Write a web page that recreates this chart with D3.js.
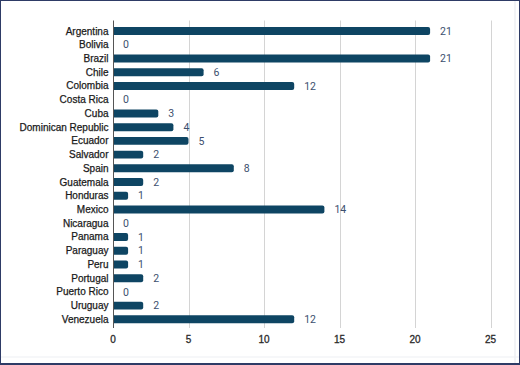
<!DOCTYPE html>
<html><head><meta charset="utf-8">
<script src="https://cdn.jsdelivr.net/npm/d3@7"></script>
<style>
html,body{margin:0;padding:0;background:#fff;}
svg{display:block;}
</style></head>
<body>
<svg id="chart" width="520" height="365"></svg>
<script>
const categories = ["Argentina","Bolivia","Brazil","Chile","Colombia","Costa Rica","Cuba","Dominican Republic","Ecuador","Salvador","Spain","Guatemala","Honduras","Mexico","Nicaragua","Panama","Paraguay","Peru","Portugal","Puerto Rico","Uruguay","Venezuela"];
const values = [21,0,21,6,12,0,3,4,5,2,8,2,1,14,0,1,1,1,2,0,2,12];
const tickValues = [0,5,10,15,20,25];

(function(){
const svg = d3.select("#chart");
const W = 520, H = 365;

// frame
svg.append("rect").attr("x",0).attr("y",0).attr("width",W).attr("height",H).attr("fill","#fff");
svg.append("rect").attr("x",514.5).attr("y",1).attr("width",1).attr("height",H-3).attr("fill","#e6e8ee");
svg.append("rect").attr("x",1).attr("y",356.5).attr("width",W-2).attr("height",1).attr("fill","#eef0f4");
svg.append("rect").attr("x",0.5).attr("y",0.5).attr("width",W-1).attr("height",H-1.5)
  .attr("fill","none").attr("stroke","#2e3b66").attr("stroke-width",1);
svg.append("rect").attr("x",0).attr("y",H-2).attr("width",W).attr("height",2).attr("fill","#2e3b66");

const x = d3.scaleLinear().domain([0,25]).range([113,490.5]);
const y = d3.scaleBand().domain(categories).range([24.2,326.2]).paddingInner(0.42).paddingOuter(0.21);

const yTop = 20.5, yBottom = 328;
// gridlines
svg.append("g").selectAll("line").data(tickValues.filter(d=>d>0)).join("line")
  .attr("x1",d=>Math.round(x(d))+0.5).attr("x2",d=>Math.round(x(d))+0.5)
  .attr("y1",yTop).attr("y2",yBottom).attr("stroke","#d4d4d4").attr("stroke-width",1);

// bars
svg.append("g").selectAll("path").data(categories.map((c,i)=>({c,v:values[i]})).filter(d=>d.v>0)).join("path")
  .attr("fill","#0e4563")
  .attr("d",d=>{
    const x0 = x(0), x1 = x(d.v), y0 = y(d.c), h = y.bandwidth(), r = 2;
    return `M${x0},${y0}H${x1-r}Q${x1},${y0} ${x1},${y0+r}V${y0+h-r}Q${x1},${y0+h} ${x1-r},${y0+h}H${x0}Z`;
  });

// axis line
svg.append("line").attr("x1",Math.round(x(0))+0.5).attr("x2",Math.round(x(0))+0.5)
  .attr("y1",yTop).attr("y2",yBottom).attr("stroke","#555").attr("stroke-width",1);

// category labels
svg.append("g").selectAll("text").data(categories).join("text")
  .attr("x",108.5).attr("y",d=>y(d)+y.bandwidth()/2).attr("dy","0.35em")
  .attr("text-anchor","end").attr("font-family","'Liberation Sans', Arial, sans-serif")
  .attr("font-size",10).attr("fill","#1a1a1a").attr("stroke","#1a1a1a").attr("stroke-width",0.25)
  .text(d=>d);

// value labels
svg.append("g").selectAll("text").data(categories.map((c,i)=>({c,v:values[i]}))).join("text")
  .attr("x",d=>x(d.v)+10).attr("y",d=>y(d.c)+y.bandwidth()/2).attr("dy","0.35em")
  .attr("font-family","Roboto, 'Liberation Sans', sans-serif")
  .attr("font-size",10.5).attr("fill","#3c4f6e").text(d=>d.v);

// tick labels
svg.append("g").selectAll("text").data(tickValues).join("text")
  .attr("x",d=>x(d)).attr("y",339).attr("dy","0.35em").attr("text-anchor","middle")
  .attr("font-family","'Liberation Sans', Arial, sans-serif")
  .attr("font-size",10).attr("fill","#2a2a2a").attr("stroke","#2a2a2a").attr("stroke-width",0.3)
  .text(d=>d);
})();
</script>
</body></html>
